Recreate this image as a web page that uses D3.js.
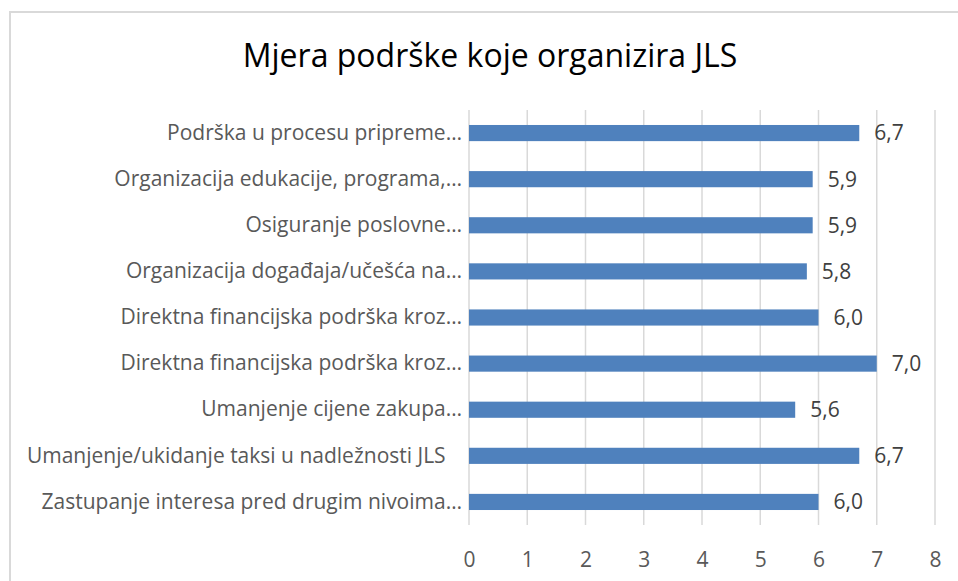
<!DOCTYPE html>
<html><head><meta charset="utf-8">
<script src="https://cdn.jsdelivr.net/npm/d3@7"></script>
<style>
html,body{margin:0;padding:0;background:#fff;}
svg{display:block;}
text{font-family:"Open Sans",sans-serif;}
</style></head>
<body>
<script>
const title = "Mjera podrške koje organizira JLS";
const categories = [
  "Podrška u procesu pripreme…",
  "Organizacija edukacije, programa,…",
  "Osiguranje poslovne…",
  "Organizacija događaja/učešća na…",
  "Direktna financijska podrška kroz…",
  "Direktna financijska podrška kroz…",
  "Umanjenje cijene zakupa…",
  "Umanjenje/ukidanje taksi u nadležnosti JLS   ",
  "Zastupanje interesa pred drugim nivoima…"
];
const values = [6.7, 5.9, 5.9, 5.8, 6.0, 7.0, 5.6, 6.7, 6.0];
const valueLabels = ["6,7", "5,9", "5,9", "5,8", "6,0", "7,0", "5,6", "6,7", "6,0"];
const xTicks = [0, 1, 2, 3, 4, 5, 6, 7, 8];

const W = 958, H = 581;
const svg = d3.select("body").append("svg").attr("width", W).attr("height", H);

// chart border
svg.append("rect").attr("x", 10).attr("y", 12).attr("width", 960).attr("height", 600)
  .attr("fill", "#fff").attr("stroke", "#d9d9d9").attr("stroke-width", 2);

svg.append("text").attr("x", 490).attr("y", 67).attr("text-anchor", "middle")
  .attr("font-size", 32).attr("fill", "#000").text(title);

const x = d3.scaleLinear().domain([0, 8]).range([469, 935]);
const y = d3.scaleBand().domain(d3.range(categories.length)).range([110, 525]).paddingInner(0.65).paddingOuter(0.325);

// gridlines
svg.append("g").selectAll("line").data(xTicks).join("line")
  .attr("x1", d => x(d)).attr("x2", d => x(d)).attr("y1", 110).attr("y2", 525)
  .attr("stroke", "#d9d9d9").attr("stroke-width", 1.5);

// x axis labels
const xAxis = d3.axisBottom(x).tickValues(xTicks).tickSize(0).tickPadding(0).tickFormat(d3.format("d"));
const gx = svg.append("g").attr("transform", "translate(0,552)").call(xAxis);
gx.select(".domain").remove();
gx.selectAll("text").attr("font-size", 21).attr("fill", "#595959").attr("font-family", "Open Sans, sans-serif");

// category labels
const yAxis = d3.axisLeft(y).tickSize(0).tickPadding(0).tickFormat(i => categories[i]);
const gy = svg.append("g").attr("transform", "translate(462,0)").call(yAxis);
gy.select(".domain").remove();
gy.selectAll("text").attr("font-size", 21).attr("fill", "#595959")
  .attr("font-family", "Open Sans, sans-serif").style("white-space", "pre");

// bars
svg.append("g").selectAll("rect").data(values).join("rect")
  .attr("x", x(0)).attr("y", (d, i) => y(i)).attr("width", d => x(d) - x(0))
  .attr("height", y.bandwidth()).attr("fill", "#4f81bd");

// value labels
svg.append("g").selectAll("text").data(values).join("text")
  .attr("x", d => x(d) + 15).attr("y", (d, i) => y(i) + y.bandwidth() / 2)
  .attr("dy", "0.35em").attr("font-size", 21).attr("fill", "#404040")
  .text((d, i) => valueLabels[i]);
</script>
</body></html>
